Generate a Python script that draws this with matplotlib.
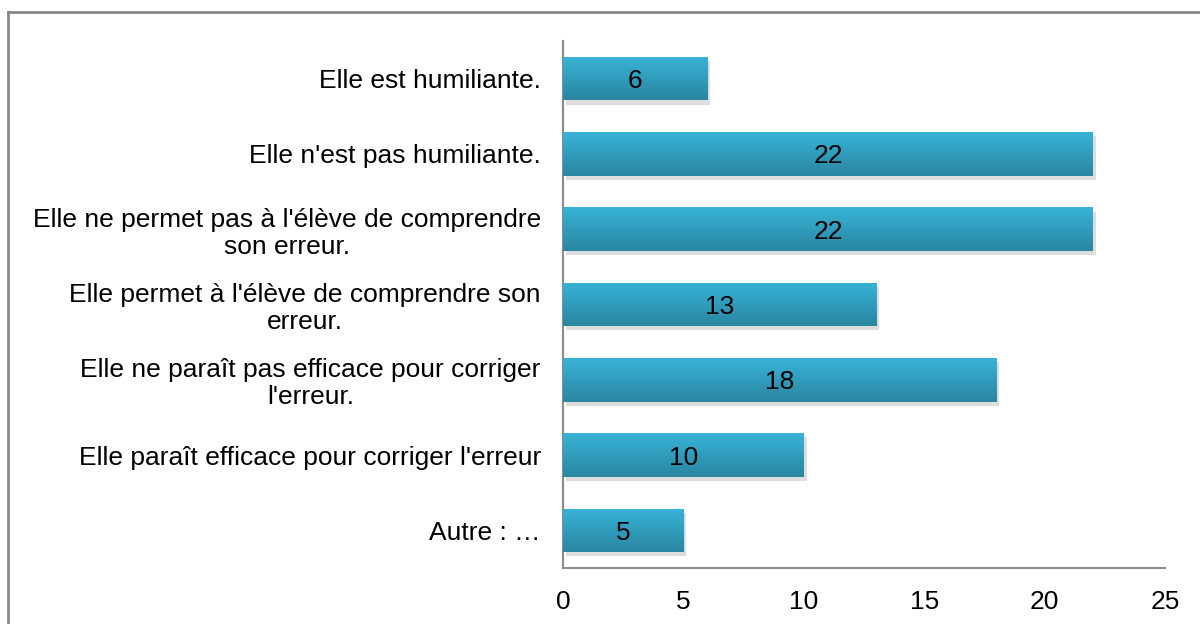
import numpy as np
import matplotlib.pyplot as plt
import matplotlib.patheffects as pe
from matplotlib.colors import LinearSegmentedColormap
from matplotlib.lines import Line2D

plt.rcParams['font.family'] = ['Liberation Sans', 'DejaVu Sans']

categories = [
    "Elle est humiliante.",
    "Elle n'est pas humiliante.",
    "Elle ne permet pas à l'élève de comprendre\nson erreur.",
    "Elle permet à l'élève de comprendre son\nerreur.",
    "Elle ne paraît pas efficace pour corriger\nl'erreur.",
    "Elle paraît efficace pour corriger l'erreur",
    "Autre : …",
]
values = [6, 22, 22, 13, 18, 10, 5]
xticks = [0, 5, 10, 15, 20, 25]

fig = plt.figure(figsize=(12, 6.24), dpi=100)
ax = fig.add_axes([563 / 1200, (624 - 568) / 624, 602 / 1200, 527 / 624])

y = np.arange(len(categories))
bar_h = 0.58
grad = LinearSegmentedColormap.from_list('g', ['#2a86a1', '#38b3d8'])
shadow = [pe.SimplePatchShadow(offset=(2, -3), shadow_rgbFace='#909090', alpha=0.3), pe.Normal()]

bars = ax.barh(y, values, height=bar_h, color='#33a6c8', edgecolor='none', zorder=2)
img = np.linspace(0, 1, 64).reshape(-1, 1)
for b, v in zip(bars, values):
    b.set_path_effects(shadow)
    x0, y0 = b.get_x(), b.get_y()
    im = ax.imshow(img, cmap=grad, aspect='auto', origin='lower',
                   extent=[x0, x0 + b.get_width(), y0 + b.get_height(), y0], zorder=3)
    im.set_clip_path(b)
    ax.text(v / 2, b.get_y() + b.get_height() / 2, str(v), ha='center', va='center_baseline',
            fontsize=19, color='black', zorder=4)

ax.set_xlim(0, 25)
ax.set_ylim(len(categories) - 0.5, -0.5)
ax.set_xticks(xticks)
ax.set_yticks(y)
ax.set_yticklabels(categories, multialignment='center', linespacing=1.15)
ax.tick_params(axis='both', length=0, labelsize=19, colors='black')
ax.tick_params(axis='x', pad=16)
ax.tick_params(axis='y', pad=16)
for s in ['top', 'right']:
    ax.spines[s].set_visible(False)
for s in ['left', 'bottom']:
    ax.spines[s].set_color('#8c8c8c')
    ax.spines[s].set_linewidth(1.5)

# outer chart border (partly cropped)
fig.add_artist(Line2D([8 / 1200, 8 / 1200], [0, 1 - 12 / 624], transform=fig.transFigure,
                      color='#888888', lw=2))
fig.add_artist(Line2D([8 / 1200, 1], [1 - 12 / 624, 1 - 12 / 624], transform=fig.transFigure,
                      color='#888888', lw=2))

fig.savefig('out.png', dpi=100)
